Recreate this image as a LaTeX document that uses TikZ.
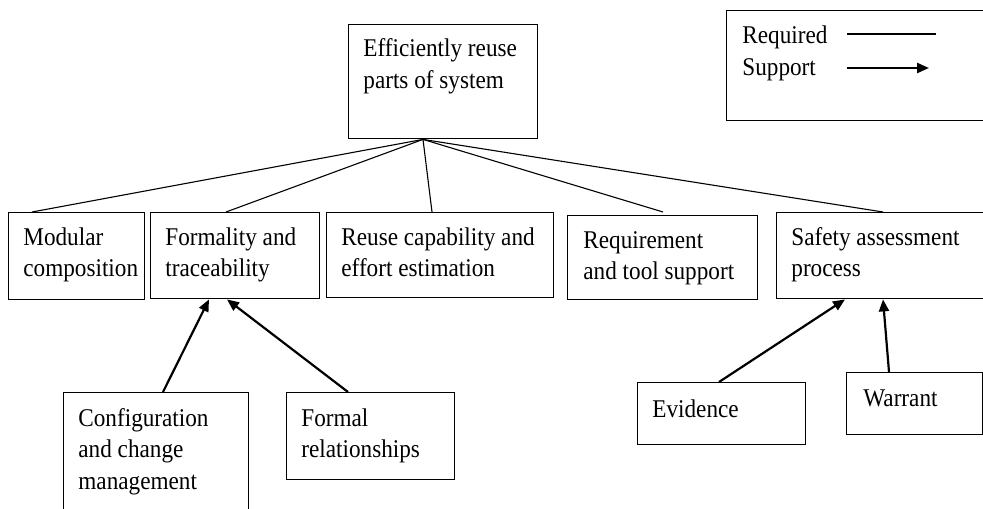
\documentclass[tikz,border=0pt]{standalone}
\usepackage{fontspec}
\setmainfont{Liberation Serif}
\usepackage{graphicx}
\usetikzlibrary{arrows.meta}
\newcommand\boxtext[1]{\scalebox{1}[1.1]{\begin{tabular}[t]{@{}l@{}}#1\end{tabular}}}
\begin{document}
\begin{tikzpicture}[x=0.5pt,y=-0.5pt,
  goalbox/.style={draw,line width=0.7pt,rectangle,inner sep=0,anchor=north west},
  txt/.style={inner sep=0,anchor=base west,font=\fontsize{11.6}{14.5}\selectfont},
  req/.style={line width=0.55pt},
  sup/.style={line width=1.1pt,-{Triangle[length=6pt,width=5pt]}}]
\useasboundingbox (0,0) rectangle (983,508);
% boxes
\node[goalbox,minimum width=94.5pt,minimum height=57pt] (top) at (348,24) {};
\node[goalbox,minimum width=130pt,minimum height=55pt] (leg) at (726,10) {};
\node[goalbox,minimum width=68pt,minimum height=43.5pt] (mod) at (8,212) {};
\node[goalbox,minimum width=84.5pt,minimum height=43pt] (form) at (150,212) {};
\node[goalbox,minimum width=113.5pt,minimum height=42.5pt] (reuse) at (326,212) {};
\node[goalbox,minimum width=95pt,minimum height=42pt] (reqt) at (567,215) {};
\node[goalbox,minimum width=104pt,minimum height=43pt] (safe) at (776,212) {};
\node[goalbox,minimum width=92.5pt,minimum height=62pt] (conf) at (63,392) {};
\node[goalbox,minimum width=84pt,minimum height=43.5pt] (formal) at (286,392) {};
\node[goalbox,minimum width=84pt,minimum height=31pt] (evid) at (637,382) {};
\node[goalbox,minimum width=68pt,minimum height=31pt] (warr) at (846,372) {};
% texts
\node[txt] (topt) at (363,57) {\boxtext{Efficiently reuse\\parts of system}};
\node[txt] (legt) at (742,44) {\boxtext{Required\\Support}};
\node[txt] (modt) at (23,245) {\boxtext{Modular\\composition}};
\node[txt] (formt) at (165,245) {\boxtext{Formality and\\traceability}};
\node[txt] (reuset) at (341,245) {\boxtext{Reuse capability and\\effort estimation}};
\node[txt] (reqtt) at (583,248) {\boxtext{Requirement\\and tool support}};
\node[txt] (safet) at (791,245) {\boxtext{Safety assessment\\process}};
\node[txt] (conft) at (78,426) {\boxtext{Configuration\\and change\\management}};
\node[txt] (formalt) at (301,426) {\boxtext{Formal\\relationships}};
\node[txt] (evidt) at (652,417) {\boxtext{Evidence}};
\node[txt] (warrt) at (863,406) {\boxtext{Warrant}};
% legend samples
\coordinate (l1a) at (847,34); \coordinate (l1b) at (936,34);
\coordinate (l2a) at (847,68); \coordinate (l2b) at (929,68);
\draw[req] (l1a) -- (l1b);
\draw[sup] (l2a) -- (l2b);
% required links
\coordinate (hub) at (423,0 |- top.south);
\draw[req] (hub) -- (32,0 |- mod.north);
\draw[req] (hub) -- (226,0 |- form.north);
\draw[req] (hub) -- (432,0 |- reuse.north);
\draw[req] (hub) -- (663,212);
\draw[req] (hub) -- (883,0 |- safe.north);
% support links
\draw[sup] (163,0 |- conf.north) -- (209,0 |- form.south);
\draw[sup] (348,0 |- formal.north) -- (227,0 |- form.south);
\draw[sup] (719,0 |- evid.north) -- (845,0 |- safe.south);
\draw[sup] (889,0 |- warr.north) -- (883,0 |- safe.south);
\end{tikzpicture}
\end{document}
